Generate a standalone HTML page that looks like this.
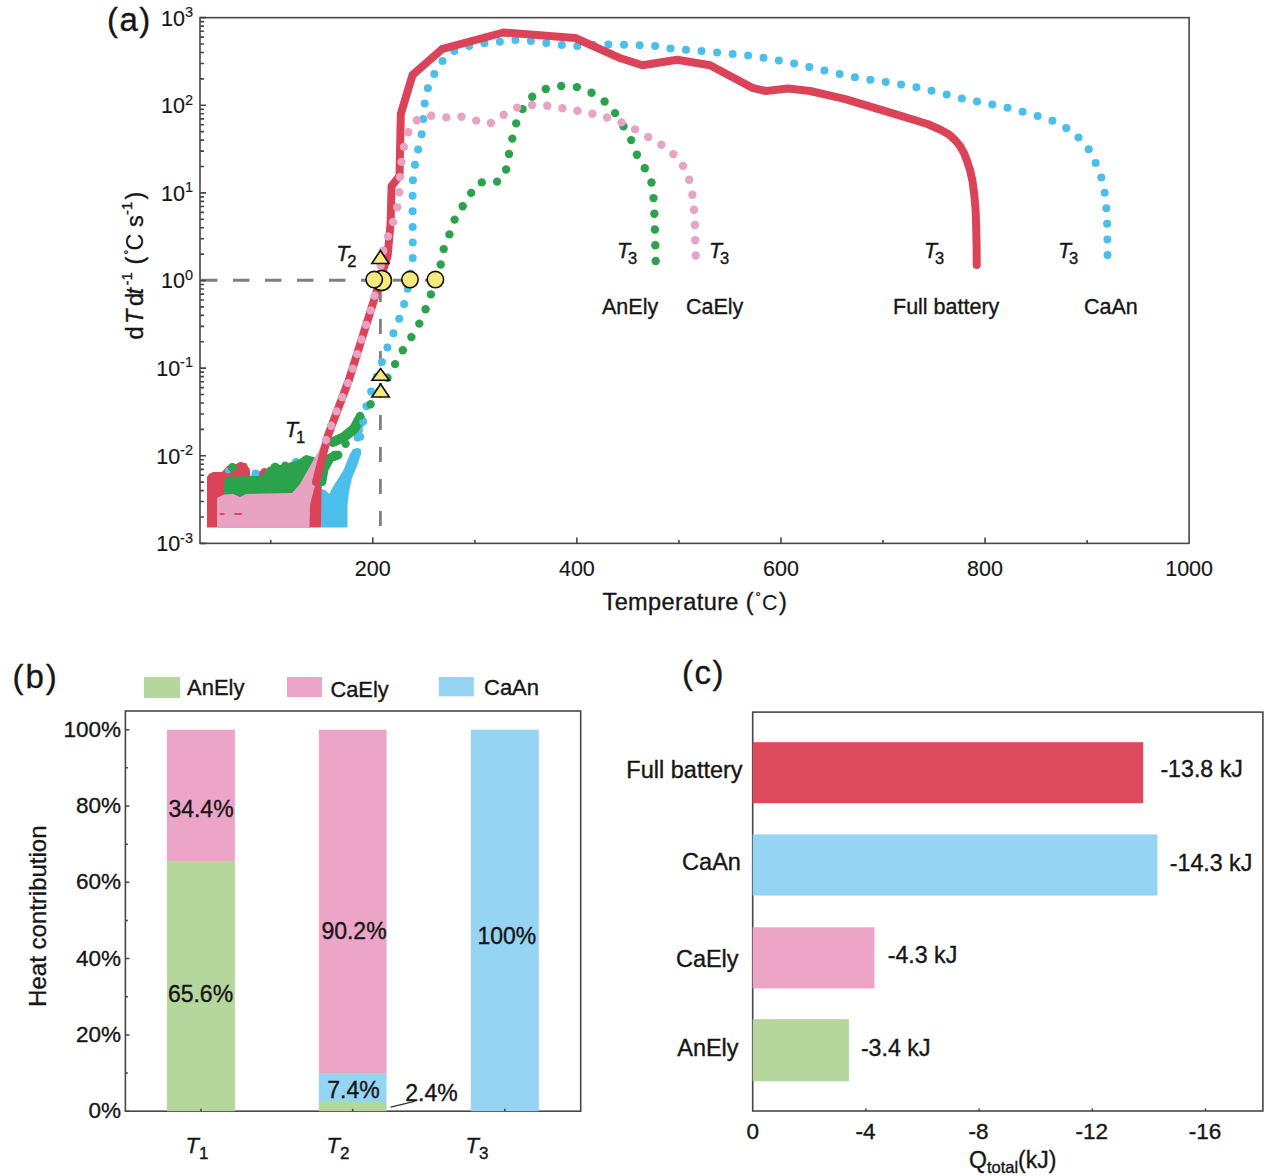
<!DOCTYPE html>
<html><head><meta charset="utf-8"><style>
html,body{margin:0;padding:0;background:#fff;}
svg{display:block;}
text{font-family:"Liberation Sans", sans-serif;fill:#161616;stroke:#161616;stroke-width:0.35px;}
</style></head><body>
<svg width="1280" height="1176" viewBox="0 0 1280 1176">
<polygon points="207.0,527.5 207.0,477.0 209.0,474.0 213.0,472.0 222.0,472.0 227.0,466.0 236.0,464.0 246.0,463.0 250.0,470.0 250.0,476.0 262.0,470.0 268.0,470.0 270.0,476.0 290.0,476.0 300.0,470.0 310.0,466.0 310.0,527.5" fill="#db4458"/>
<circle cx="240.8" cy="467.1" r="5" fill="#db4458"/>
<circle cx="264.4" cy="471.6" r="3.5" fill="#db4458"/>
<circle cx="255.5" cy="473.5" r="4" fill="#4bbfec"/>
<circle cx="228" cy="470.5" r="3" fill="#4bbfec"/>
<circle cx="296" cy="462" r="4" fill="#4bbfec"/>
<polygon points="321.2,527.5 321.2,489.0 325.0,490.0 329.4,494.0 332.5,487.5 343.4,470.3 349.7,454.7 353.0,449.0 358.0,449.0 361.0,454.0 357.0,466.0 352.0,478.0 349.0,492.0 347.5,505.0 347.5,527.5" fill="#4bbfec"/>
<circle cx="359" cy="429.7" r="4" fill="#4bbfec"/>
<circle cx="357.5" cy="437.5" r="4" fill="#4bbfec"/>
<circle cx="361" cy="424" r="3.5" fill="#4bbfec"/>
<polygon points="224.0,480.0 228.0,476.5 262.0,476.0 268.0,467.0 285.0,464.0 298.0,460.0 306.0,455.0 314.0,457.0 318.0,462.0 312.0,476.0 303.0,488.0 298.0,493.0 246.0,494.6 242.0,499.0 233.0,499.0 224.0,494.0" fill="#2ba24b"/>
<circle cx="232.5" cy="467.4" r="4.5" fill="#2ba24b"/>
<circle cx="275.3" cy="467.8" r="5" fill="#2ba24b"/>
<circle cx="306.25" cy="460" r="4.5" fill="#2ba24b"/>
<circle cx="285" cy="465" r="3.5" fill="#2ba24b"/>
<polyline points="333,442 344,437 354,429 360,418" fill="none" stroke="#2ba24b" stroke-width="10" stroke-linecap="round" stroke-linejoin="round"/>
<polyline points="322,481 324,469 330,458 338,455" fill="none" stroke="#2ba24b" stroke-width="9" stroke-linecap="round" stroke-linejoin="round"/>
<polygon points="217.0,527.5 217.0,498.0 224.0,494.5 233.0,494.0 240.0,497.0 246.0,494.0 292.0,493.0 300.0,484.0 318.0,452.0 329.0,430.0 327.0,442.0 321.0,462.0 315.0,485.0 311.0,505.0 310.0,527.5" fill="#e8a2c2"/>
<polygon points="309.5,527.5 310.0,505.0 315.0,485.0 319.0,466.0 322.0,466.0 321.2,527.5" fill="#db4458"/>
<path d="M219.8,514H224.6M234.4,514H241.8" stroke="#c8506a" stroke-width="2"/>
<path d="M201,280.3H442" stroke="#808080" stroke-width="3" stroke-dasharray="16.5 15.5"/>
<path d="M380.4,287V543" stroke="#808080" stroke-width="2.8" stroke-dasharray="15 17"/>
<g fill="#4bbfec"><circle cx="357.3" cy="452.0" r="4"/><circle cx="360.1" cy="436.7" r="4"/><circle cx="363.2" cy="421.4" r="4"/><circle cx="366.5" cy="406.2" r="4"/><circle cx="371.1" cy="391.4" r="4"/><circle cx="376.7" cy="376.8" r="4"/><circle cx="381.9" cy="362.1" r="4"/><circle cx="387.4" cy="347.6" r="4"/><circle cx="393.4" cy="333.2" r="4"/><circle cx="399.2" cy="318.7" r="4"/><circle cx="404.1" cy="303.9" r="4"/><circle cx="407.7" cy="288.8" r="4"/><circle cx="410.7" cy="273.5" r="4"/><circle cx="412.7" cy="258.1" r="4"/><circle cx="412.7" cy="242.5" r="4"/><circle cx="412.7" cy="226.9" r="4"/><circle cx="412.6" cy="211.3" r="4"/><circle cx="412.6" cy="195.8" r="4"/><circle cx="412.9" cy="180.2" r="4"/><circle cx="414.9" cy="164.7" r="4"/><circle cx="418.1" cy="149.5" r="4"/><circle cx="421.6" cy="134.3" r="4"/><circle cx="423.3" cy="118.9" r="4"/><circle cx="424.7" cy="103.4" r="4"/><circle cx="427.9" cy="88.2" r="4"/><circle cx="434.3" cy="74.0" r="4"/><circle cx="442.5" cy="60.9" r="4"/><circle cx="454.3" cy="50.9" r="4"/><circle cx="469.1" cy="45.9" r="4"/><circle cx="484.4" cy="43.2" r="4"/><circle cx="499.9" cy="41.8" r="4"/><circle cx="515.4" cy="40.1" r="4"/><circle cx="530.9" cy="41.1" r="4"/><circle cx="546.3" cy="43.1" r="4"/><circle cx="561.8" cy="45.0" r="4"/><circle cx="577.3" cy="45.9" r="4"/><circle cx="592.9" cy="44.8" r="4"/><circle cx="608.4" cy="44.4" r="4"/><circle cx="624.0" cy="44.7" r="4"/><circle cx="639.6" cy="45.3" r="4"/><circle cx="655.1" cy="46.1" r="4"/><circle cx="670.5" cy="48.4" r="4"/><circle cx="686.0" cy="49.8" r="4"/><circle cx="701.5" cy="51.1" r="4"/><circle cx="717.1" cy="52.4" r="4"/><circle cx="732.6" cy="53.9" r="4"/><circle cx="748.1" cy="55.6" r="4"/><circle cx="763.5" cy="57.8" r="4"/><circle cx="778.8" cy="60.4" r="4"/><circle cx="794.1" cy="63.4" r="4"/><circle cx="809.3" cy="66.9" r="4"/><circle cx="824.4" cy="70.6" r="4"/><circle cx="839.6" cy="74.0" r="4"/><circle cx="854.9" cy="77.2" r="4"/><circle cx="870.3" cy="79.7" r="4"/><circle cx="885.7" cy="82.1" r="4"/><circle cx="901.1" cy="84.4" r="4"/><circle cx="916.4" cy="87.3" r="4"/><circle cx="931.5" cy="90.8" r="4"/><circle cx="946.7" cy="94.5" r="4"/><circle cx="961.8" cy="98.4" r="4"/><circle cx="977.0" cy="101.6" r="4"/><circle cx="992.3" cy="104.4" r="4"/><circle cx="1007.5" cy="107.8" r="4"/><circle cx="1022.6" cy="111.7" r="4"/><circle cx="1037.6" cy="116.0" r="4"/><circle cx="1052.4" cy="120.8" r="4"/><circle cx="1066.2" cy="127.9" r="4"/><circle cx="1078.5" cy="137.5" r="4"/><circle cx="1088.7" cy="149.2" r="4"/><circle cx="1095.6" cy="163.1" r="4"/><circle cx="1101.3" cy="177.6" r="4"/><circle cx="1104.7" cy="192.8" r="4"/><circle cx="1106.3" cy="208.3" r="4"/><circle cx="1107.1" cy="223.8" r="4"/><circle cx="1107.4" cy="239.4" r="4"/><circle cx="1107.5" cy="255.0" r="4"/></g>
<g fill="#2ba24b"><circle cx="321.8" cy="482.0" r="4.2"/><circle cx="324.3" cy="466.8" r="4.2"/><circle cx="334.5" cy="454.9" r="4.2"/><circle cx="345.6" cy="443.8" r="4.2"/><circle cx="353.8" cy="430.4" r="4.2"/><circle cx="360.0" cy="415.9" r="4.2"/><circle cx="370.6" cy="404.3" r="4.2"/><circle cx="379.4" cy="391.3" r="4.2"/><circle cx="387.5" cy="377.8" r="4.2"/><circle cx="395.1" cy="364.1" r="4.2"/><circle cx="402.8" cy="350.3" r="4.2"/><circle cx="411.4" cy="337.1" r="4.2"/><circle cx="419.3" cy="323.6" r="4.2"/><circle cx="425.6" cy="309.2" r="4.2"/><circle cx="430.9" cy="294.4" r="4.2"/><circle cx="436.2" cy="279.5" r="4.2"/><circle cx="440.7" cy="264.5" r="4.2"/><circle cx="443.7" cy="249.1" r="4.2"/><circle cx="449.4" cy="234.4" r="4.2"/><circle cx="454.6" cy="219.6" r="4.2"/><circle cx="462.7" cy="206.2" r="4.2"/><circle cx="471.2" cy="192.9" r="4.2"/><circle cx="481.8" cy="182.4" r="4.2"/><circle cx="497.1" cy="181.6" r="4.2"/><circle cx="506.1" cy="169.5" r="4.2"/><circle cx="509.0" cy="154.0" r="4.2"/><circle cx="512.3" cy="138.6" r="4.2"/><circle cx="516.2" cy="123.4" r="4.2"/><circle cx="522.6" cy="109.1" r="4.2"/><circle cx="532.2" cy="96.8" r="4.2"/><circle cx="545.8" cy="89.0" r="4.2"/><circle cx="561.2" cy="86.0" r="4.2"/><circle cx="576.9" cy="87.1" r="4.2"/><circle cx="591.5" cy="92.7" r="4.2"/><circle cx="604.6" cy="101.5" r="4.2"/><circle cx="615.1" cy="113.1" r="4.2"/><circle cx="623.5" cy="126.4" r="4.2"/><circle cx="631.2" cy="140.1" r="4.2"/><circle cx="636.9" cy="154.7" r="4.2"/><circle cx="644.8" cy="168.3" r="4.2"/><circle cx="651.5" cy="182.5" r="4.2"/><circle cx="653.5" cy="198.1" r="4.2"/><circle cx="654.4" cy="213.8" r="4.2"/><circle cx="654.9" cy="229.5" r="4.2"/><circle cx="655.3" cy="245.3" r="4.2"/><circle cx="655.7" cy="261.0" r="4.2"/></g>
<polyline points="316.0,482.0 327.8,436.0 348.9,380.0 376.3,292.7 382.4,272.0 387.6,256.0 390.6,223.0 391.6,186.0 399.5,176.0 400.8,114.0 412.5,75.0 442.5,48.8 503.4,32.5 575.3,38.0 620.6,58.3 642.5,65.3 677.2,59.7 710.0,65.2 752.2,87.8 766.0,91.0 788.0,88.6 810.0,91.0 844.4,98.8 886.9,111.6 927.5,124.0 940.0,129.5 949.0,134.5 955.0,140.0 960.0,146.0 964.0,153.0 967.0,161.0 970.0,170.0 972.5,181.0 974.3,195.0 975.6,210.0 976.1,225.0 976.6,245.0 976.7,265.0" fill="none" stroke="#db4458" stroke-width="8" stroke-linecap="round" stroke-linejoin="round"/>
<g fill="#e8a2c2"><circle cx="326.0" cy="440.0" r="4.2"/><circle cx="331.2" cy="425.7" r="4.2"/><circle cx="336.5" cy="411.4" r="4.2"/><circle cx="342.2" cy="397.3" r="4.2"/><circle cx="347.9" cy="383.1" r="4.2"/><circle cx="352.7" cy="368.6" r="4.2"/><circle cx="357.2" cy="354.1" r="4.2"/><circle cx="361.5" cy="339.5" r="4.2"/><circle cx="366.1" cy="324.9" r="4.2"/><circle cx="370.6" cy="310.4" r="4.2"/><circle cx="374.6" cy="295.7" r="4.2"/><circle cx="378.0" cy="280.8" r="4.2"/><circle cx="380.6" cy="265.8" r="4.2"/><circle cx="383.2" cy="250.8" r="4.2"/><circle cx="388.0" cy="236.4" r="4.2"/><circle cx="393.1" cy="222.0" r="4.2"/><circle cx="397.2" cy="207.3" r="4.2"/><circle cx="399.3" cy="192.3" r="4.2"/><circle cx="399.9" cy="177.1" r="4.2"/><circle cx="401.5" cy="161.9" r="4.2"/><circle cx="404.0" cy="146.9" r="4.2"/><circle cx="408.3" cy="132.3" r="4.2"/><circle cx="416.8" cy="120.3" r="4.2"/><circle cx="431.2" cy="115.8" r="4.2"/><circle cx="446.3" cy="117.4" r="4.2"/><circle cx="461.5" cy="116.7" r="4.2"/><circle cx="476.2" cy="120.6" r="4.2"/><circle cx="490.9" cy="123.0" r="4.2"/><circle cx="503.7" cy="114.7" r="4.2"/><circle cx="517.2" cy="107.6" r="4.2"/><circle cx="532.1" cy="105.0" r="4.2"/><circle cx="547.3" cy="105.8" r="4.2"/><circle cx="562.4" cy="108.3" r="4.2"/><circle cx="577.4" cy="110.8" r="4.2"/><circle cx="592.4" cy="113.7" r="4.2"/><circle cx="607.1" cy="117.5" r="4.2"/><circle cx="621.5" cy="122.4" r="4.2"/><circle cx="635.1" cy="129.4" r="4.2"/><circle cx="648.2" cy="137.1" r="4.2"/><circle cx="661.4" cy="144.8" r="4.2"/><circle cx="673.4" cy="154.1" r="4.2"/><circle cx="683.0" cy="165.9" r="4.2"/><circle cx="689.2" cy="179.8" r="4.2"/><circle cx="692.4" cy="194.7" r="4.2"/><circle cx="694.0" cy="209.8" r="4.2"/><circle cx="694.9" cy="225.0" r="4.2"/><circle cx="695.3" cy="240.3" r="4.2"/><circle cx="695.7" cy="255.5" r="4.2"/></g>
<g fill="#f6ea7e" stroke="#111" stroke-width="1.6">
<circle cx="381.5" cy="280.5" r="10"/>
<circle cx="374.2" cy="279.6" r="8.2"/>
<circle cx="410" cy="279.6" r="8.2"/>
<circle cx="435.4" cy="279.6" r="8.2"/>
<path d="M380.4,250.5L389,263.5H371.8Z"/>
<path d="M380.6,368.5L389.3,380.3H371.9Z"/>
<path d="M380.6,384L389.3,397H371.9Z"/>
</g>
<rect x="200" y="17.66" width="989.0999999999999" height="525.72" fill="none" stroke="#464646" stroke-width="1.6"/>
<path d="M200,517.00h4 M200,501.57h4 M200,490.63h4 M200,482.14h4 M200,475.20h4 M200,469.33h4 M200,464.25h4 M200,459.77h4 M200,429.38h4 M200,413.95h4 M200,403.01h4 M200,394.52h4 M200,387.58h4 M200,381.71h4 M200,376.63h4 M200,372.15h4 M200,341.76h4 M200,326.33h4 M200,315.39h4 M200,306.90h4 M200,299.96h4 M200,294.09h4 M200,289.01h4 M200,284.53h4 M200,254.14h4 M200,238.71h4 M200,227.77h4 M200,219.28h4 M200,212.34h4 M200,206.47h4 M200,201.39h4 M200,196.91h4 M200,166.52h4 M200,151.09h4 M200,140.15h4 M200,131.66h4 M200,124.72h4 M200,118.85h4 M200,113.77h4 M200,109.29h4 M200,78.90h4 M200,63.47h4 M200,52.53h4 M200,44.04h4 M200,37.10h4 M200,31.23h4 M200,26.15h4 M200,21.67h4 M200,543.38h6 M200,455.76h6 M200,368.14h6 M200,280.52h6 M200,192.90h6 M200,105.28h6 M200,17.66h6 M270.76,543.38v-3.5 M474.84,543.38v-3.5 M678.92,543.38v-3.5 M883.00,543.38v-3.5 M1087.08,543.38v-3.5 M372.80,543.38v-6 M576.88,543.38v-6 M780.96,543.38v-6 M985.04,543.38v-6" stroke="#464646" stroke-width="1.6" fill="none"/>
<text x="193" y="551.28" text-anchor="end" font-size="21.5" style="stroke-width:0.15px">10<tspan font-size="14.5" dy="-8.6">-3</tspan></text>
<text x="193" y="463.66" text-anchor="end" font-size="21.5" style="stroke-width:0.15px">10<tspan font-size="14.5" dy="-8.6">-2</tspan></text>
<text x="193" y="376.04" text-anchor="end" font-size="21.5" style="stroke-width:0.15px">10<tspan font-size="14.5" dy="-8.6">-1</tspan></text>
<text x="193" y="288.42" text-anchor="end" font-size="21.5" style="stroke-width:0.15px">10<tspan font-size="14.5" dy="-8.6">0</tspan></text>
<text x="193" y="200.80" text-anchor="end" font-size="21.5" style="stroke-width:0.15px">10<tspan font-size="14.5" dy="-8.6">1</tspan></text>
<text x="193" y="113.18" text-anchor="end" font-size="21.5" style="stroke-width:0.15px">10<tspan font-size="14.5" dy="-8.6">2</tspan></text>
<text x="193" y="25.56" text-anchor="end" font-size="21.5" style="stroke-width:0.15px">10<tspan font-size="14.5" dy="-8.6">3</tspan></text>
<text x="372.80" y="576" text-anchor="middle" font-size="21.5" style="stroke-width:0.15px">200</text>
<text x="576.88" y="576" text-anchor="middle" font-size="21.5" style="stroke-width:0.15px">400</text>
<text x="780.96" y="576" text-anchor="middle" font-size="21.5" style="stroke-width:0.15px">600</text>
<text x="985.04" y="576" text-anchor="middle" font-size="21.5" style="stroke-width:0.15px">800</text>
<text x="1189.12" y="576" text-anchor="middle" font-size="21.5" style="stroke-width:0.15px">1000</text>
<text x="602.5" y="609.5" font-size="23.5" letter-spacing="0.4">Temperature (</text><text x="755.5" y="601" font-size="13">°</text><text x="762" y="609.8" font-size="21.5" fill="#3a3a3a" style="stroke:none">C</text><text x="779" y="609.5" font-size="23.5">)</text>
<text x="107" y="30.7" font-size="33" letter-spacing="1.5">(a)</text>
<g transform="translate(143.3,338.6) rotate(-90)" font-size="23.5"><text x="-1">d</text><text x="14.5" font-style="italic">T</text><text x="32.7">d</text><text x="44.2" font-style="italic">t</text><text x="53" y="-11" font-size="15">-1</text><text x="74" >(</text><text x="84" y="-10" font-size="12">°</text><text x="88" fill="#3a3a3a" style="stroke:none">C</text><text x="111.5">s</text><text x="123.5" y="-11" font-size="15">-1</text><text x="139">)</text></g>
<rect x="125.4" y="711" width="455.30000000000007" height="400.20000000000005" fill="none" stroke="#464646" stroke-width="1.6"/>
<rect x="166.9" y="860.94" width="68.00" height="250.26" fill="#b5d69c"/>
<rect x="166.9" y="729.70" width="68.00" height="131.24" fill="#eda5c7"/>
<rect x="318.8" y="1102.04" width="67.80" height="9.16" fill="#b5d69c"/>
<rect x="318.8" y="1073.81" width="67.80" height="28.23" fill="#96d4f3"/>
<rect x="318.8" y="729.70" width="67.80" height="344.11" fill="#eda5c7"/>
<rect x="470.8" y="729.70" width="68.00" height="381.50" fill="#96d4f3"/>
<path d="M125.4,1111.20h4 M125.4,1034.90h4 M125.4,958.60h4 M125.4,882.30h4 M125.4,806.00h4 M125.4,729.70h4 M125.4,1073.05h2.5 M125.4,996.75h2.5 M125.4,920.45h2.5 M125.4,844.15h2.5 M125.4,767.85h2.5 M201,1111.2v-2.5 M352.7,1111.2v-2.5 M504.8,1111.2v-2.5" stroke="#464646" stroke-width="1.5" fill="none"/>
<text x="121" y="1118.20" text-anchor="end" font-size="22.5">0%</text>
<text x="121" y="1041.90" text-anchor="end" font-size="22.5">20%</text>
<text x="121" y="965.60" text-anchor="end" font-size="22.5">40%</text>
<text x="121" y="889.30" text-anchor="end" font-size="22.5">60%</text>
<text x="121" y="813.00" text-anchor="end" font-size="22.5">80%</text>
<text x="121" y="736.70" text-anchor="end" font-size="22.5">100%</text>
<text x="12.5" y="688" font-size="33" letter-spacing="2">(b)</text>
<rect x="144" y="677" width="36" height="21" fill="#b5d69c"/><text x="187" y="694.5" font-size="22">AnEly</text>
<rect x="287" y="677" width="35" height="20" fill="#eda5c7"/><text x="330.5" y="697" font-size="21.8">CaEly</text>
<rect x="438.8" y="677" width="35" height="19.3" fill="#96d4f3"/><text x="484" y="695" font-size="22">CaAn</text>
<text transform="translate(46.4,1006.9) rotate(-90)" font-size="24">Heat contribution</text>
<text x="200.5" y="1002" text-anchor="middle" font-size="23">65.6%</text>
<text x="201" y="817" text-anchor="middle" font-size="23">34.4%</text>
<text x="354" y="939" text-anchor="middle" font-size="23">90.2%</text>
<text x="353.5" y="1097.5" text-anchor="middle" font-size="23">7.4%</text>
<text x="431.5" y="1101" text-anchor="middle" font-size="23">2.4%</text>
<text x="506.8" y="944" text-anchor="middle" font-size="23">100%</text>
<path d="M390.6,1107.2L414.6,1101.4" stroke="#333" stroke-width="1.2"/>
<text x="197" y="1153" text-anchor="middle" font-size="22"><tspan font-style="italic">T</tspan><tspan font-size="17" dy="6">1</tspan></text>
<text x="338" y="1153" text-anchor="middle" font-size="22"><tspan font-style="italic">T</tspan><tspan font-size="17" dy="6">2</tspan></text>
<text x="477" y="1153" text-anchor="middle" font-size="22"><tspan font-style="italic">T</tspan><tspan font-size="17" dy="6">3</tspan></text>
<text x="285" y="437" font-size="21.5" font-style="italic">T</text><text x="296" y="443" font-size="16.5">1</text>
<text x="336.3" y="260.8" font-size="21.5" font-style="italic">T</text><text x="347.3" y="266.8" font-size="16.5">2</text>
<text x="617" y="258" font-size="21.5" font-style="italic">T</text><text x="628" y="264" font-size="16.5">3</text>
<text x="709" y="258" font-size="21.5" font-style="italic">T</text><text x="720" y="264" font-size="16.5">3</text>
<text x="924" y="258" font-size="21.5" font-style="italic">T</text><text x="935" y="264" font-size="16.5">3</text>
<text x="1058" y="258" font-size="21.5" font-style="italic">T</text><text x="1069" y="264" font-size="16.5">3</text>
<text x="602" y="313.5" font-size="21.5">AnEly</text>
<text x="686" y="313.5" font-size="21.5">CaEly</text>
<text x="893" y="313.5" font-size="21.5">Full battery</text>
<text x="1084" y="313.5" font-size="21.5">CaAn</text>
<rect x="752.7" y="712.1" width="510.20000000000005" height="398.9" fill="none" stroke="#464646" stroke-width="1.6"/>
<rect x="752.7" y="742.2" width="390.54" height="61.00" fill="#dc4a5c"/>
<text x="742.6" y="778.4" text-anchor="end" font-size="23.5">Full battery</text>
<text x="1160.4" y="777" font-size="23.2">-13.8 kJ</text>
<rect x="752.7" y="834.4" width="404.69" height="61.20" fill="#96d4f3"/>
<text x="740.9" y="869.7" text-anchor="end" font-size="23.5">CaAn</text>
<text x="1169.8" y="871" font-size="23.2">-14.3 kJ</text>
<rect x="752.7" y="927.3" width="121.69" height="61.10" fill="#eda5c7"/>
<text x="738.6" y="966.8" text-anchor="end" font-size="23.5">CaEly</text>
<text x="887.7" y="963.3" font-size="23.2">-4.3 kJ</text>
<rect x="752.7" y="1019.2" width="96.22" height="62.10" fill="#b5d69c"/>
<text x="738.6" y="1056.2" text-anchor="end" font-size="23.5">AnEly</text>
<text x="860.9" y="1056.2" font-size="23.2">-3.4 kJ</text>
<path d="M865.90,1111v-2.5 M979.10,1111v-2.5 M1092.30,1111v-2.5 M1205.50,1111v-2.5" stroke="#464646" stroke-width="1.5" fill="none"/>
<text x="752.70" y="1138.8" text-anchor="middle" font-size="22.5">0</text>
<text x="865.40" y="1138.8" text-anchor="middle" font-size="22.5">-4</text>
<text x="978.60" y="1138.8" text-anchor="middle" font-size="22.5">-8</text>
<text x="1091.80" y="1138.8" text-anchor="middle" font-size="22.5">-12</text>
<text x="1205.00" y="1138.8" text-anchor="middle" font-size="22.5">-16</text>
<text x="682" y="684.2" font-size="33" letter-spacing="1.5">(c)</text>
<text x="969" y="1167.7" font-size="23">Q<tspan font-size="16.5" dy="5">total</tspan><tspan dy="-5">(kJ)</tspan></text>
</svg></body></html>
